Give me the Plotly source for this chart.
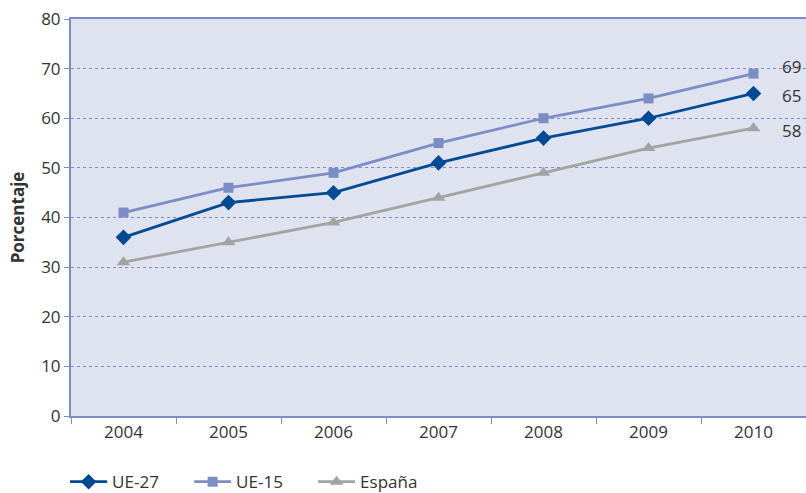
import plotly.graph_objects as go

years = ["2004", "2005", "2006", "2007", "2008", "2009", "2010"]
ue27 = [36, 43, 45, 51, 56, 60, 65]
ue15 = [41, 46, 49, 55, 60, 64, 69]
espana = [31, 35, 39, 44, 49, 54, 58]

series = [
    ("UE-27", ue27, "#004a93", "diamond", 12),
    ("UE-15", ue15, "#7b8dc4", "square", 10),
    ("España", espana, "#a3a3a3", "triangle-up", 12),
]

fig = go.Figure()
for name, vals, color, symbol, size in series:
    fig.add_trace(go.Scatter(
        x=years, y=vals, name=name, mode="lines+markers",
        line=dict(color=color, width=2.8),
        marker=dict(symbol=symbol, size=size, color=color),
    ))

# Value labels beside the last point of each series
shifts = {"UE-27": -2, "UE-15": 7, "España": -2}
last = len(years) - 1
for name, vals, color, symbol, size in series:
    fig.add_annotation(
        x=last, y=vals[-1], text=str(vals[-1]), showarrow=False,
        xref="x", yref="y",
        xanchor="left", xshift=26, yshift=shifts[name],
        font=dict(size=17, color="#333333"),
    )

axis_color = "#7b8dc4"
fig.update_layout(
    width=806, height=493,
    margin=dict(l=71, r=0, t=19, b=77, autoexpand=False),
    paper_bgcolor="white",
    plot_bgcolor="#dfe2ef",
    font=dict(family="Open Sans, Noto Sans, sans-serif", size=17, color="#333333"),
    showlegend=True,
    legend=dict(
        orientation="h", x=-0.008, xanchor="left",
        yref="container", y=0.022, yanchor="middle",
        font=dict(size=17, color="#333333"), itemwidth=37,
        entrywidth=72, bgcolor="rgba(0,0,0,0)",
    ),
    xaxis=dict(
        type="category", showgrid=False, showline=True, linecolor=axis_color,
        linewidth=2, mirror=True, ticks="outside", tickson="boundaries",
        ticklen=6, tickcolor=axis_color, tickfont=dict(size=17),
        range=[-0.5, 6.5],
    ),
    yaxis=dict(
        range=[0, 80], dtick=10, showgrid=True, gridcolor=axis_color,
        griddash="dot", gridwidth=1.3, showline=True, linecolor=axis_color,
        linewidth=2, ticks="outside", ticklen=5, tickcolor=axis_color,
        zeroline=False, tickfont=dict(size=17),
        title=dict(text="<b>Porcentaje</b>", font=dict(size=17), standoff=12),
    ),
)

fig.write_html("out.html")
